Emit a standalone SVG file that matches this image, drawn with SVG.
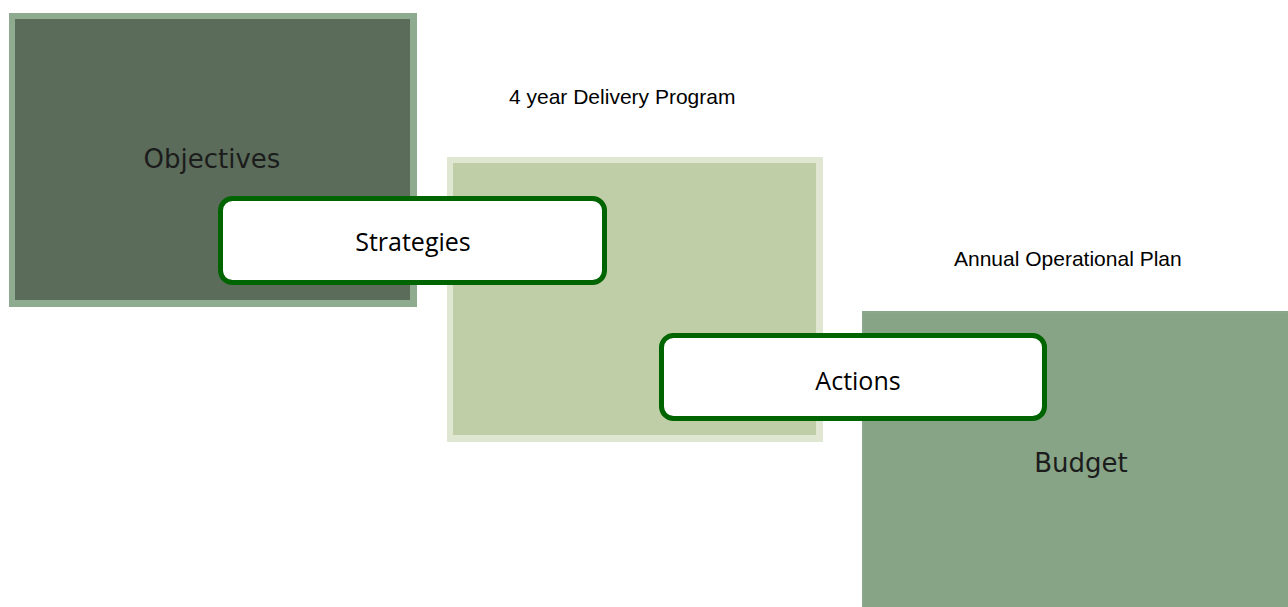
<svg xmlns="http://www.w3.org/2000/svg" width="1288" height="607" viewBox="0 0 1288 607">
  <style>
    .panel-label { font-family: "DejaVu Sans", Verdana, sans-serif; font-size: 26px; fill: #1c1c1c; text-anchor: middle; }
    .tag { fill: #ffffff; stroke: #006400; stroke-width: 5; }
    .tag-label { font-family: "Open Sans", "Liberation Sans", sans-serif; font-size: 25px; fill: #000000; text-anchor: middle; }
    .caption { font-family: "Liberation Sans", Arial, sans-serif; font-size: 21px; fill: #000000; }
  </style>

  <!-- Objectives panel -->
  <g id="objectives">
    <rect x="9" y="13" width="408" height="294" fill="#8fab8f"/>
    <rect x="15" y="19" width="395" height="281" fill="#5b6d5a"/>
    <text class="panel-label" x="212" y="168">Objectives</text>
  </g>

  <!-- Delivery program panel -->
  <g id="delivery">
    <rect x="447" y="157" width="376" height="285" fill="#dfe7d3"/>
    <rect x="453" y="163" width="363" height="272" fill="#bfcea6"/>
  </g>

  <!-- Budget panel -->
  <g id="budget">
    <rect x="862" y="311" width="426" height="296" fill="#8ba78b"/>
    <rect x="864" y="314" width="424" height="293" fill="#87a487"/>
    <text class="panel-label" x="1081" y="472">Budget</text>
  </g>

  <g id="captions">
    <text class="caption" x="509" y="104">4 year Delivery Program</text>
    <text class="caption" x="954" y="266">Annual Operational Plan</text>
  </g>

  <!-- Strategies tag -->
  <g id="strategies">
    <rect class="tag" x="220.5" y="198.5" width="384" height="84" rx="12" ry="12"/>
    <text class="tag-label" x="413" y="251">Strategies</text>
  </g>

  <!-- Actions tag -->
  <g id="actions">
    <rect class="tag" x="661.5" y="335.5" width="383" height="83" rx="12" ry="12"/>
    <text class="tag-label" x="858" y="390">Actions</text>
  </g>

  <g id="connectors"></g>
</svg>
